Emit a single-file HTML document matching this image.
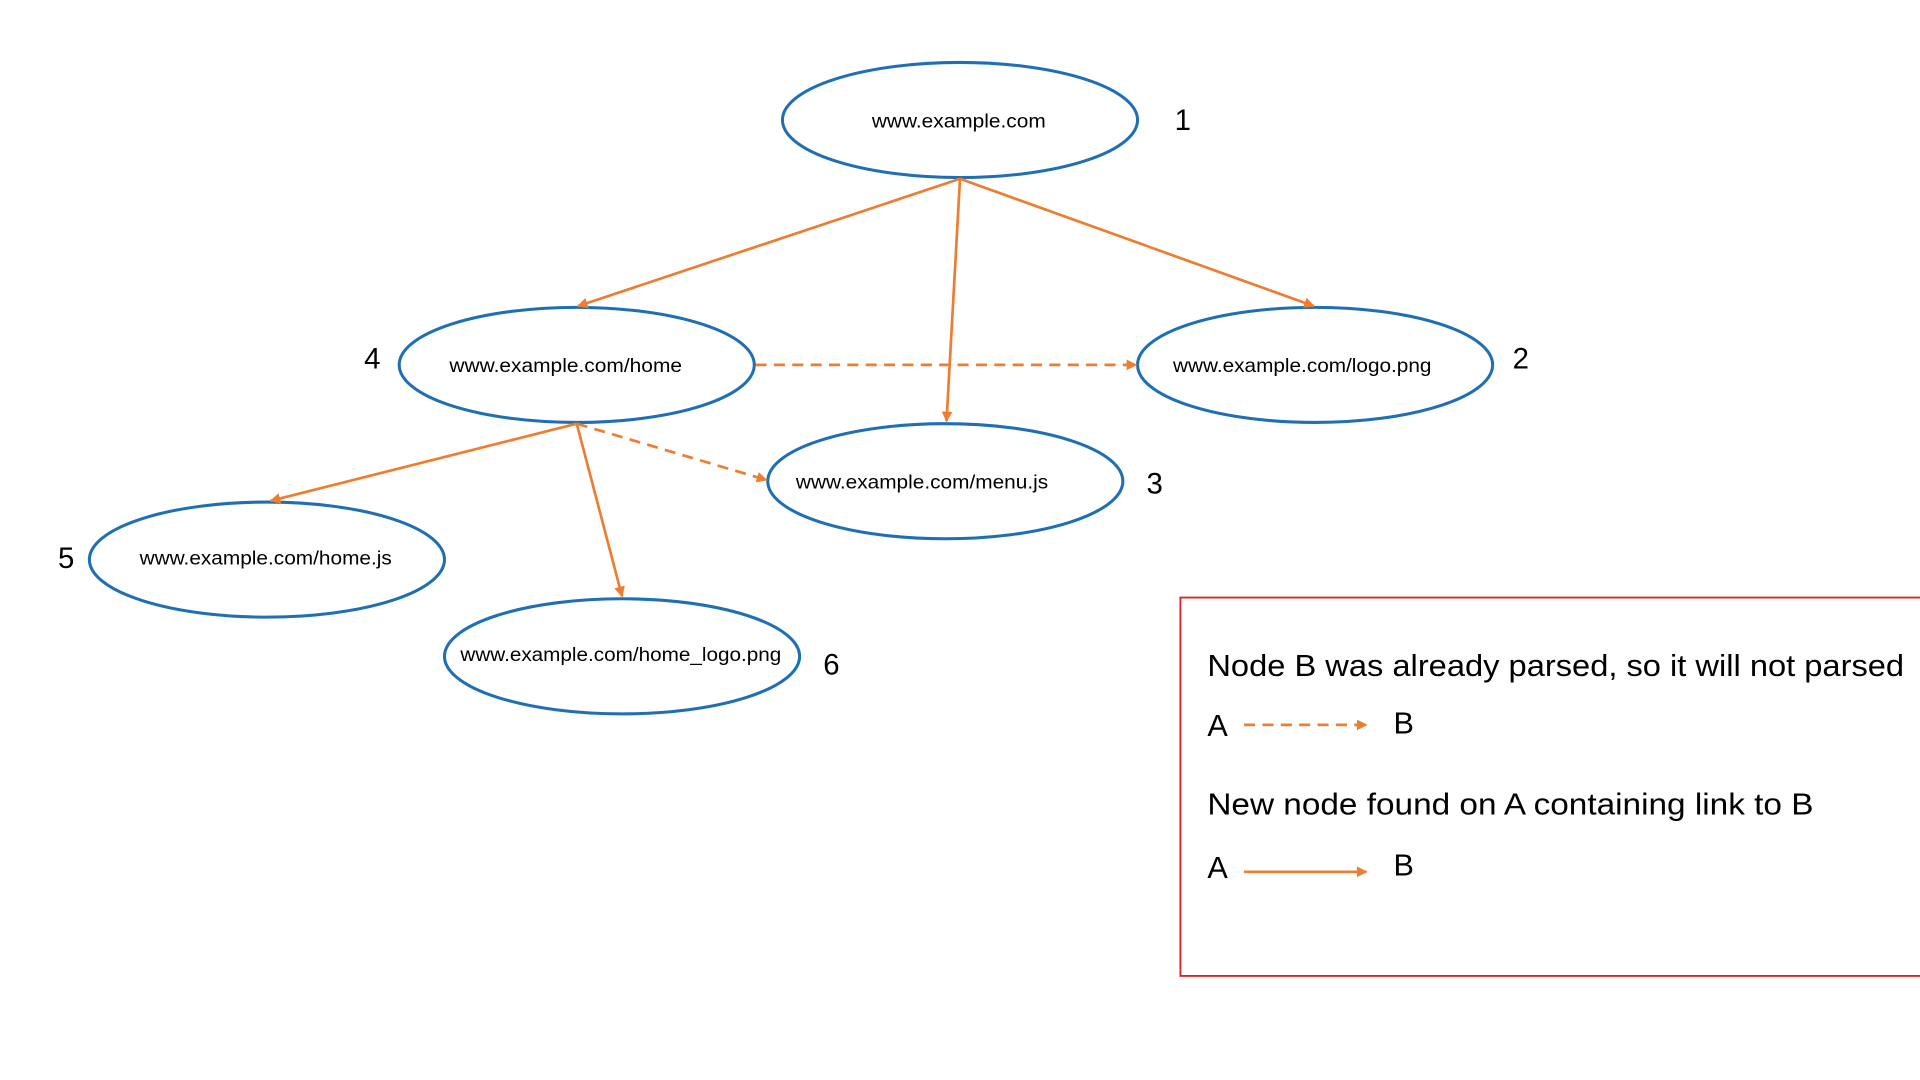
<!DOCTYPE html>
<html><head><meta charset="utf-8"><style>
html,body{margin:0;padding:0;background:#fff;width:1920px;height:1080px;overflow:hidden}
svg{display:block}
text{font-family:"Liberation Sans",sans-serif;fill:#000}
</style></head><body>
<svg width="1920" height="1080" viewBox="0 0 1568 882" preserveAspectRatio="none">
<defs>
<marker id="a" viewBox="0 0 10 10" refX="9" refY="5" markerWidth="4" markerHeight="4" orient="auto"><path d="M0,0L10,5L0,10z" fill="#ed7d31"/></marker>
</defs>
<g fill="none" stroke="#1f6fb5" stroke-width="2.5">
<ellipse cx="784" cy="98" rx="145" ry="47"/>
<ellipse cx="471" cy="298" rx="145" ry="47"/>
<ellipse cx="1074" cy="298" rx="145" ry="47"/>
<ellipse cx="772" cy="393" rx="145" ry="47"/>
<ellipse cx="218" cy="457" rx="145" ry="47"/>
<ellipse cx="508" cy="536" rx="145" ry="47"/>
</g>
<g stroke="#ed7d31" stroke-width="2.2" fill="none" marker-end="url(#a)">
<line x1="784" y1="146" x2="472" y2="250"/>
<line x1="784" y1="146" x2="1073" y2="250"/>
<line x1="784" y1="146" x2="773" y2="344"/>
<line x1="617" y1="298" x2="928" y2="298" stroke-dasharray="9,6"/>
<line x1="471" y1="346" x2="626" y2="392" stroke-dasharray="9,6"/>
<line x1="471" y1="346" x2="221" y2="409"/>
<line x1="471" y1="346" x2="508" y2="487"/>
<line x1="1016" y1="592" x2="1116" y2="592" stroke-dasharray="9,6"/>
<line x1="1016" y1="712" x2="1116" y2="712"/>
</g>
<g font-size="16">
<text x="712" y="104" textLength="142" lengthAdjust="spacingAndGlyphs">www.example.com</text>
<text x="367" y="304" textLength="190" lengthAdjust="spacingAndGlyphs">www.example.com/home</text>
<text x="958" y="304" textLength="211" lengthAdjust="spacingAndGlyphs">www.example.com/logo.png</text>
<text x="650" y="399" textLength="206" lengthAdjust="spacingAndGlyphs">www.example.com/menu.js</text>
<text x="114" y="461" textLength="206" lengthAdjust="spacingAndGlyphs">www.example.com/home.js</text>
<text x="376" y="540" textLength="262" lengthAdjust="spacingAndGlyphs">www.example.com/home_logo.png</text>
</g>
<g font-size="24" text-anchor="middle">
<text x="966" y="106">1</text>
<text x="1242" y="301">2</text>
<text x="943" y="403">3</text>
<text x="304" y="301">4</text>
<text x="54" y="464">5</text>
<text x="679" y="551">6</text>
</g>
<rect x="964" y="488" width="620" height="309" fill="none" stroke="#e02020" stroke-width="1.5"/>
<g font-size="25">
<text x="986" y="552" textLength="569" lengthAdjust="spacingAndGlyphs">Node B was already parsed, so it will not parsed</text>
<text x="986" y="601">A</text>
<text x="1138" y="599">B</text>
<text x="986" y="665" textLength="495" lengthAdjust="spacingAndGlyphs">New node found on A containing link to B</text>
<text x="986" y="717">A</text>
<text x="1138" y="715">B</text>
</g>
</svg>
</body></html>
